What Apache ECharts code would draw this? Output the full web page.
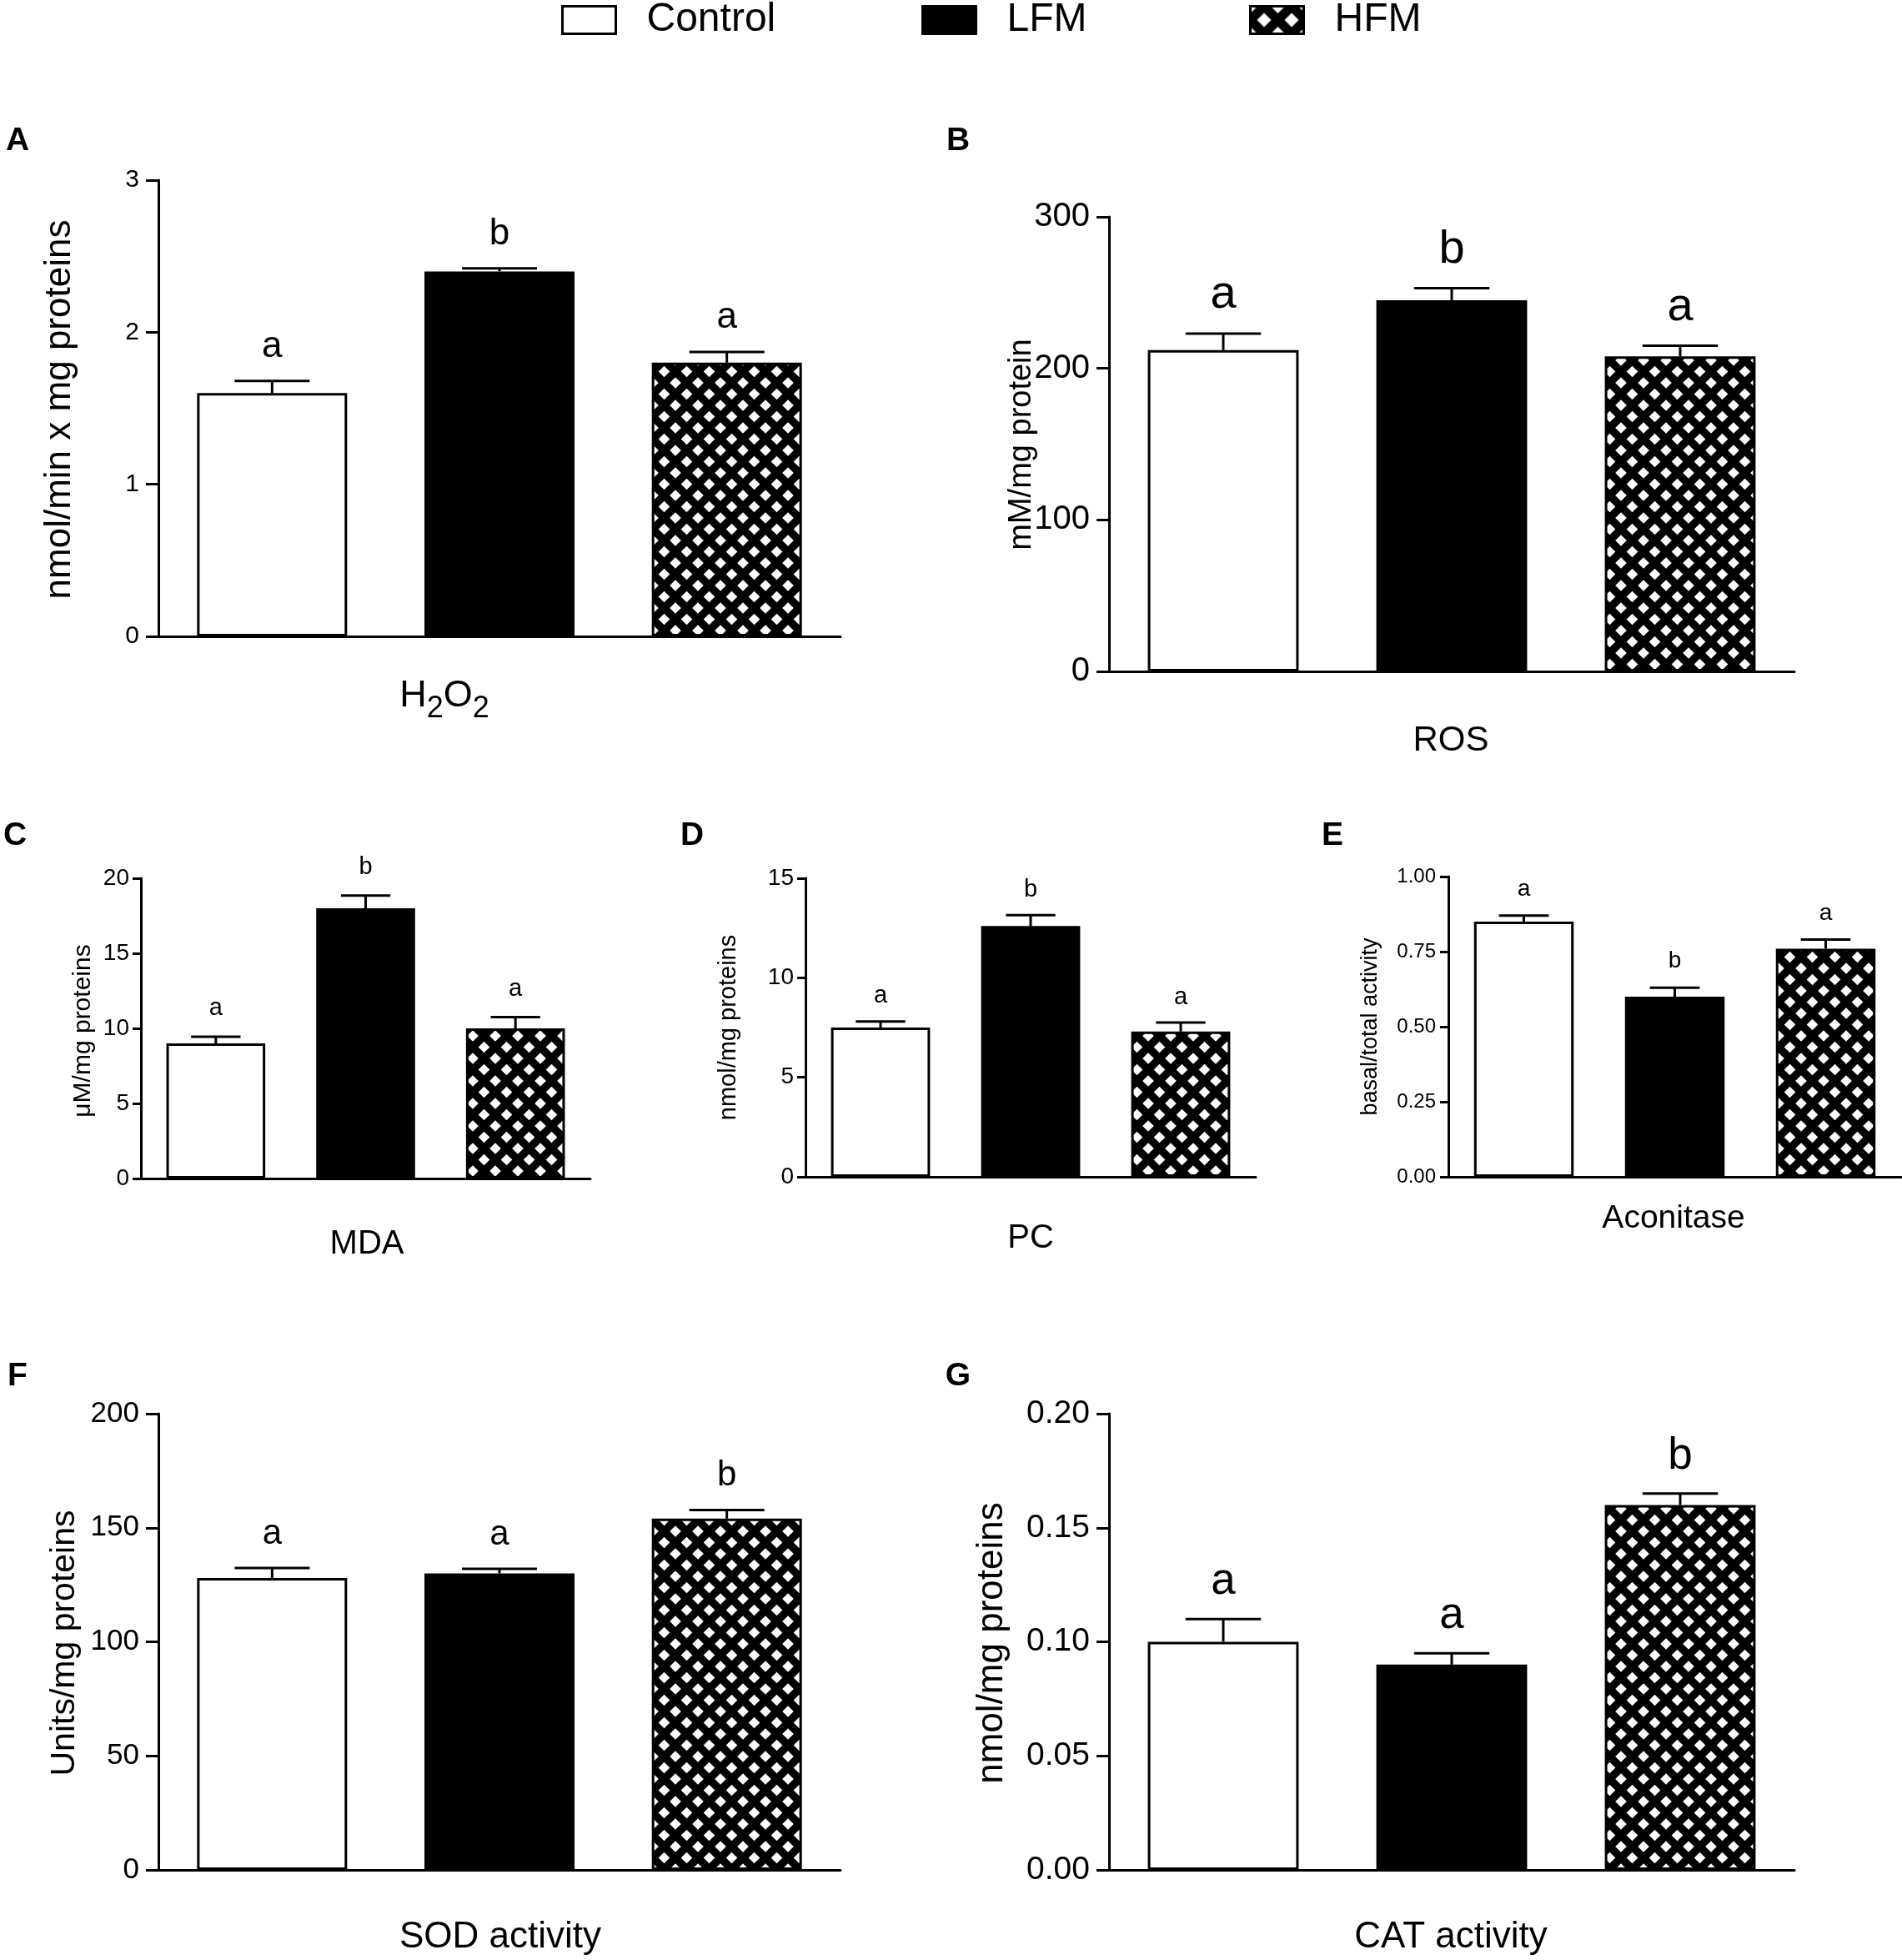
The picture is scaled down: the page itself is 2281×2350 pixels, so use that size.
<!DOCTYPE html>
<html><head><meta charset="utf-8">
<script src="https://cdn.jsdelivr.net/npm/echarts/dist/echarts.min.js"></script>
<style>html,body{margin:0;padding:0;background:#fff}#c{width:2281px;height:2350px}</style>
</head><body><div id="c"></div>
<script>
// ---------- data ----------
const groups = ['Control', 'LFM', 'HFM'];

const h2o2Mean = [1.60, 2.40, 1.80];
const h2o2Err  = [0.08, 0.02, 0.07];
const h2o2Sig  = ['a', 'b', 'a'];
const h2o2Ticks = [0, 1, 2, 3];

const rosMean = [212, 245, 208];
const rosErr  = [11, 8, 7];
const rosSig  = ['a', 'b', 'a'];
const rosTicks = [0, 100, 200, 300];

const mdaMean = [9.0, 18.0, 10.0];
const mdaErr  = [0.45, 0.85, 0.75];
const mdaSig  = ['a', 'b', 'a'];
const mdaTicks = [0, 5, 10, 15, 20];

const pcMean = [7.5, 12.6, 7.3];
const pcErr  = [0.3, 0.55, 0.45];
const pcSig  = ['a', 'b', 'a'];
const pcTicks = [0, 5, 10, 15];

const aconMean = [0.85, 0.60, 0.76];
const aconErr  = [0.02, 0.03, 0.03];
const aconSig  = ['a', 'b', 'a'];
const aconTicks = [0, 0.25, 0.5, 0.75, 1.0];

const sodMean = [128, 130, 154];
const sodErr  = [4.4, 2, 3.8];
const sodSig  = ['a', 'a', 'b'];
const sodTicks = [0, 50, 100, 150, 200];

const catMean = [0.100, 0.090, 0.160];
const catErr  = [0.010, 0.005, 0.005];
const catSig  = ['a', 'a', 'b'];
const catTicks = [0, 0.05, 0.10, 0.15, 0.20];

// ---------- layout / style ----------
const FF = "'Liberation Sans', Arial, Helvetica, sans-serif";

const panels = [
  {letter:'A', mean:h2o2Mean, err:h2o2Err, sig:h2o2Sig, ticks:h2o2Ticks, dec:0,
   grid:{left:190, top:216, width:818, height:547}, tickFs:30, tickLen:15, margin:23, sigFs:44, sigOff:37,
   yTitle:'nmol/min x mg proteins', yTitleFs:44, yTitleX:72, yTitleY:491,
   xName:'H2O2', xNameFs:45, xNameX:533, xNameY:835, letterX:21, letterY:169},
  {letter:'B', mean:rosMean, err:rosErr, sig:rosSig, ticks:rosTicks, dec:0,
   grid:{left:1330, top:260, width:822, height:545}, tickFs:40, tickLen:15, margin:23, sigFs:56, sigOff:41,
   yTitle:'mM/mg protein', yTitleFs:38, yTitleX:1226, yTitleY:533,
   xName:'ROS', xNameFs:42, xNameX:1740, xNameY:888, letterX:1149, letterY:169},
  {letter:'C', mean:mdaMean, err:mdaErr, sig:mdaSig, ticks:mdaTicks, dec:0,
   grid:{left:169, top:1053, width:539, height:360}, tickFs:28, tickLen:10, margin:14, sigFs:29, sigOff:31,
   yTitle:'\u03bcM/mg proteins', yTitleFs:30, yTitleX:100, yTitleY:1236,
   xName:'MDA', xNameFs:40, xNameX:440, xNameY:1492, letterX:18, letterY:1002},
  {letter:'D', mean:pcMean, err:pcErr, sig:pcSig, ticks:pcTicks, dec:0,
   grid:{left:966, top:1053, width:540, height:358}, tickFs:28, tickLen:10, margin:14, sigFs:29, sigOff:28,
   yTitle:'nmol/mg proteins', yTitleFs:29, yTitleX:874, yTitleY:1232,
   xName:'PC', xNameFs:40, xNameX:1236, xNameY:1485, letterX:830, letterY:1002},
  {letter:'E', mean:aconMean, err:aconErr, sig:aconSig, ticks:aconTicks, dec:2,
   grid:{left:1737, top:1051, width:543, height:360}, tickFs:24, tickLen:10, margin:15, sigFs:28, sigOff:29,
   yTitle:'basal/total activity', yTitleFs:27, yTitleX:1644, yTitleY:1231,
   xName:'Aconitase', xNameFs:39, xNameX:2007, xNameY:1461, letterX:1598, letterY:1002},
  {letter:'F', mean:sodMean, err:sodErr, sig:sodSig, ticks:sodTicks, dec:0,
   grid:{left:190, top:1695, width:818, height:547}, tickFs:35, tickLen:15, margin:23, sigFs:42, sigOff:37,
   yTitle:'Units/mg proteins', yTitleFs:41, yTitleX:78, yTitleY:1970,
   xName:'SOD activity', xNameFs:44, xNameX:600, xNameY:2323, letterX:21, letterY:1650},
  {letter:'G', mean:catMean, err:catErr, sig:catSig, ticks:catTicks, dec:2,
   grid:{left:1330, top:1695, width:822, height:547}, tickFs:39, tickLen:15, margin:23, sigFs:53, sigOff:40,
   yTitle:'nmol/mg proteins', yTitleFs:44, yTitleX:1190, yTitleY:1970,
   xName:'CAT activity', xNameFs:44, xNameX:1740, xNameY:2323, letterX:1149, letterY:1650}
];

function makePattern(s, r) {
  const c = document.createElement('canvas');
  c.width = s; c.height = s;
  const g = c.getContext('2d');
  g.fillStyle = '#000'; g.fillRect(0, 0, s, s);
  g.fillStyle = '#fff';
  [[0,0],[s,0],[0,s],[s,s],[s/2,s/2]].forEach(([x,y]) => {
    g.beginPath(); g.moveTo(x, y-r); g.lineTo(x+r, y); g.lineTo(x, y+r); g.lineTo(x-r, y); g.closePath(); g.fill();
  });
  return c;
}
const fills = ['#ffffff', '#000000', {image: makePattern(27, 6.8), repeat: 'repeat'}];
const legendHfmFill = {image: makePattern(33, 8.5), repeat: 'repeat'};

// ---------- build option ----------
const grids = [], xAxes = [], yAxes = [], series = [], graphics = [];

panels.forEach((P, i) => {
  grids.push(Object.assign({outerBoundsMode:'none', containLabel:false}, P.grid));
  xAxes.push({
    type:'category', gridIndex:i, data:groups,
    axisLine:{show:true, lineStyle:{color:'#000', width:3}},
    axisTick:{show:false}, axisLabel:{show:false}, splitLine:{show:false}
  });
  const t = P.ticks;
  yAxes.push({
    type:'value', gridIndex:i, min:t[0], max:t[t.length-1], interval:t[1]-t[0],
    axisLine:{show:true, lineStyle:{color:'#000', width:3}},
    axisTick:{show:true, length:P.tickLen, lineStyle:{color:'#000', width:3}},
    axisLabel:{show:true, color:'#000', fontSize:P.tickFs, fontFamily:FF, margin:P.margin,
               formatter: v => Number(v).toFixed(P.dec)},
    splitLine:{show:false}
  });
  groups.forEach((gname, gi) => {
    series.push({
      type:'bar', name:gname, xAxisIndex:i, yAxisIndex:i,
      data: groups.map((_, k) => k === gi ? P.mean[k] : '-'),
      barWidth:'66%', barGap:'-100%', silent:true,
      itemStyle:{color:fills[gi], borderColor:'#000', borderWidth:3}
    });
  });
  series.push({
    type:'custom', name:'err' + i, xAxisIndex:i, yAxisIndex:i, z:10, silent:true,
    data: P.mean.map((m, k) => [k, m, P.err[k]]),
    renderItem: (params, api) => {
      const k = api.value(0), m = api.value(1), e = api.value(2);
      const p0 = api.coord([k, m]);
      const p1 = api.coord([k, m + e]);
      const bw = api.size([1, 0])[0];
      const half = bw * 0.66 / 4;
      const x = p0[0];
      return {type:'group', children:[
        {type:'line', shape:{x1:x, y1:p0[1], x2:x, y2:p1[1]}, style:{stroke:'#000', lineWidth:3}},
        {type:'line', shape:{x1:x-half, y1:p1[1], x2:x+half, y2:p1[1]}, style:{stroke:'#000', lineWidth:3}},
        {type:'text', x:x, y:p1[1] - P.sigOff - 0.087 * P.sigFs,
         style:{text:P.sig[k], fontSize:P.sigFs, fontFamily:FF, fill:'#000', align:'center', verticalAlign:'middle'}}
      ]};
    }
  });
  // y title
  graphics.push({type:'text', x:P.yTitleX, y:P.yTitleY, rotation:Math.PI/2, silent:true,
    style:{text:P.yTitle, fontSize:P.yTitleFs, fontFamily:FF, fill:'#000', align:'center', verticalAlign:'middle'}});
  // x name
  if (P.xName === 'H2O2') {
    graphics.push({type:'text', x:P.xNameX, y:P.xNameY, silent:true,
      style:{text:'{n|H}{s|2}{n|O}{s|2}', fill:'#000', align:'center', verticalAlign:'middle',
        rich:{n:{fontSize:P.xNameFs, fontFamily:FF, lineHeight:66, verticalAlign:'middle', fill:'#000'},
              s:{fontSize:36, fontFamily:FF, lineHeight:36, verticalAlign:'bottom', fill:'#000'}}}});
  } else {
    graphics.push({type:'text', x:P.xNameX, y:P.xNameY, silent:true,
      style:{text:P.xName, fontSize:P.xNameFs, fontFamily:FF, fill:'#000', align:'center', verticalAlign:'middle'}});
  }
  // panel letter
  graphics.push({type:'text', x:P.letterX, y:P.letterY, silent:true,
    style:{text:P.letter, fontSize:39, fontWeight:'bold', fontFamily:FF, fill:'#000', align:'center', verticalAlign:'middle'}});
});

const legendLefts = [673, 1105, 1498];
const legends = groups.map((g, gi) => ({
  data:[g], left:legendLefts[gi], top:0, padding:0, orient:'horizontal',
  icon:'rect', itemWidth:64, itemHeight:33, selectedMode:false,
  itemStyle: gi === 2 ? {color:legendHfmFill, borderColor:'#000', borderWidth:3}
                      : {borderColor:'#000', borderWidth:3},
  textStyle:{fontSize:48, lineHeight:48, color:'#000', fontFamily:FF, padding:[0,0,0,32]}
}));

const chart = echarts.init(document.getElementById('c'), null, {renderer:'canvas'});
chart.setOption({
  backgroundColor:'#fff', animation:false,
  legend:legends, grid:grids, xAxis:xAxes, yAxis:yAxes, series:series, graphic:graphics
});
</script></body></html>
